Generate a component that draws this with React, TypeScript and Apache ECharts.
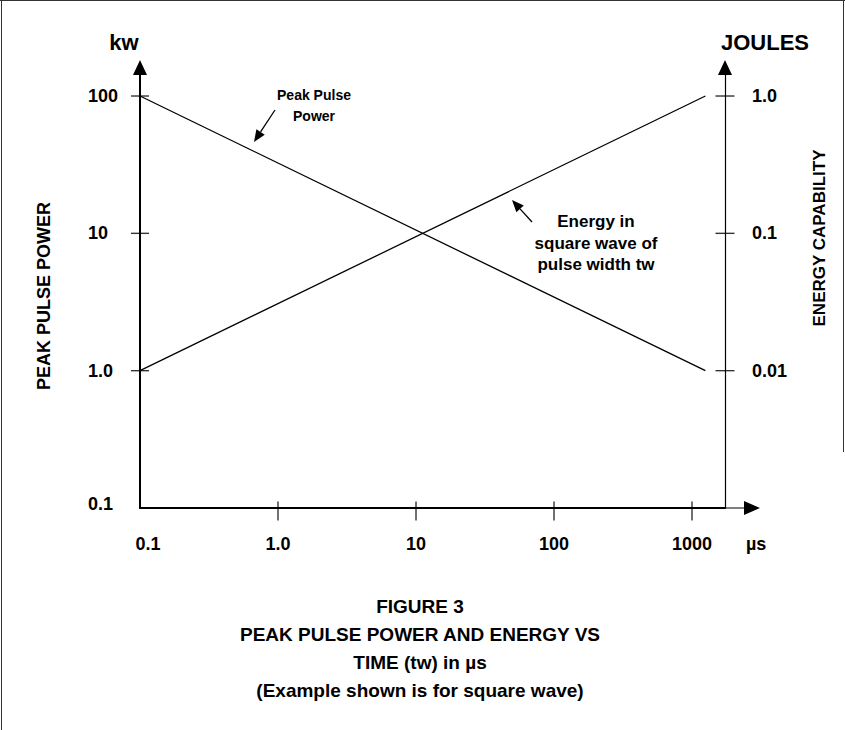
import React, { useEffect, useRef } from "react";
import * as echarts from "echarts";

// ---- data ----
const pulseWidthUs = [0.1, 1250];
const peakPulsePowerKw = [100, 1.0];
const energyJoules = [0.01, 1.0];

const xTickValues = [0.1, 1, 10, 100, 1000];
const xTickLabels = ["0.1", "1.0", "10", "100", "1000"];
const powerTickValues = [0.1, 1, 10, 100];
const powerTickLabels = ["0.1", "1.0", "10", "100"];
const energyTickValues = [0.01, 0.1, 1];
const energyTickLabels = ["0.01", "0.1", "1.0"];

const captionLines = [
  "FIGURE 3",
  "PEAK PULSE POWER AND ENERGY VS",
  "TIME (tw) in µs",
  "(Example shown is for square wave)",
];

// ---- axis extents ----
const X_MIN = 0.1;
const X_MAX = 1734;
const Y_MIN = 0.1;
const Y_MAX = 161.3;
const E_MIN = 0.001;
const E_MAX = Y_MAX / 100;

const FONT = "'Liberation Sans', Arial, Helvetica, sans-serif";

function labelFor(values: number[], labels: string[], firstStyle?: string) {
  return (v: number) => {
    for (let i = 0; i < values.length; i++) {
      if (Math.abs(Math.log10(v) - Math.log10(values[i])) < 1e-6) {
        return i === 0 && firstStyle ? `{${firstStyle}|${labels[i]}}` : labels[i];
      }
    }
    return "";
  };
}

function arrow(tail: [number, number], tip: [number, number], len = 12, half = 5) {
  const dx = tip[0] - tail[0];
  const dy = tip[1] - tail[1];
  const L = Math.hypot(dx, dy);
  const ux = dx / L, uy = dy / L;
  const bx = tip[0] - ux * len, by = tip[1] - uy * len;
  const px = -uy, py = ux;
  return [
    { type: "line", shape: { x1: tail[0], y1: tail[1], x2: bx, y2: by }, style: { stroke: "#000", lineWidth: 1.3 } },
    {
      type: "polygon",
      shape: { points: [tip, [bx + px * half, by + py * half], [bx - px * half, by - py * half]] },
      style: { fill: "#000" },
    },
  ];
}

function txt(x: number, y: number, text: string, size: number, align = "center", rotation = 0) {
  return {
    type: "text",
    x,
    y,
    rotation,
    style: {
      text,
      font: `bold ${size}px ${FONT}`,
      fill: "#000",
      align,
      verticalAlign: "middle",
      textAlign: align,
      textVerticalAlign: "middle",
    },
  };
}

export default function App() {
  const ref = useRef<HTMLDivElement>(null);

  useEffect(() => {
    if (!ref.current) return;
    const chart = echarts.init(ref.current, null, { renderer: "svg" });

    const labelStyle = { fontSize: 18, fontWeight: "bold", color: "#000", fontFamily: FONT };
    const richBase = { fontSize: 18, fontWeight: "bold", color: "#000", fontFamily: FONT };

    const option: any = {
      animation: false,
      backgroundColor: "#fff",
      grid: { left: 140, top: 67.5, width: 585, height: 440.5, containLabel: false },
      xAxis: {
        type: "log",
        logBase: 10,
        min: X_MIN,
        max: X_MAX,
        axisLine: { show: true, lineStyle: { color: "#000", width: 2 } },
        axisTick: { show: false },
        splitLine: { show: false },
        axisLabel: {
          ...labelStyle,
          margin: 27,
          formatter: labelFor(xTickValues, xTickLabels, "first"),
          rich: { first: { ...richBase, padding: [0, 0, 0, 16] } },
        },
      },
      yAxis: [
        {
          type: "log",
          logBase: 10,
          min: Y_MIN,
          max: Y_MAX,
          position: "left",
          axisLine: {
            show: true,
            symbol: ["none", "triangle"],
            symbolSize: [14, 15],
            lineStyle: { color: "#000", width: 2 },
          },
          axisTick: { show: false },
          splitLine: { show: false },
          axisLabel: {
            ...labelStyle,
            margin: 52,
            align: "left",
            formatter: labelFor(powerTickValues, powerTickLabels, "first"),
            rich: { first: { ...richBase, padding: [0, 0, 9, 0] } },
          },
        },
        {
          type: "log",
          logBase: 10,
          min: E_MIN,
          max: E_MAX,
          position: "right",
          axisLine: {
            show: true,
            symbol: ["none", "triangle"],
            symbolSize: [14, 15],
            lineStyle: { color: "#000", width: 1.2 },
          },
          axisTick: { show: false },
          splitLine: { show: false },
          axisLabel: { ...labelStyle, margin: 27, formatter: labelFor(energyTickValues, energyTickLabels) },
        },
      ],
      series: [
        {
          name: "Peak Pulse Power",
          type: "line",
          xAxisIndex: 0,
          yAxisIndex: 0,
          data: pulseWidthUs.map((t, i) => [t, peakPulsePowerKw[i]]),
          symbol: "none",
          lineStyle: { color: "#000", width: 1.3 },
          clip: false,
        },
        {
          name: "Energy in square wave of pulse width tw",
          type: "line",
          xAxisIndex: 0,
          yAxisIndex: 1,
          data: pulseWidthUs.map((t, i) => [t, energyJoules[i]]),
          symbol: "none",
          lineStyle: { color: "#000", width: 1.3 },
          clip: false,
        },
        {
          name: "powerTicks",
          type: "scatter",
          yAxisIndex: 0,
          data: powerTickValues.filter((v) => v > Y_MIN).map((v) => [X_MIN, v]),
          symbol: "rect",
          symbolSize: [18, 1.4],
          itemStyle: { color: "#000" },
          silent: true,
          clip: false,
        },
        {
          name: "timeTicks",
          type: "scatter",
          yAxisIndex: 0,
          data: xTickValues.filter((v) => v > X_MIN).map((v) => [v, Y_MIN]),
          symbol: "rect",
          symbolSize: [1.4, 19],
          symbolOffset: [0, 3],
          itemStyle: { color: "#000" },
          silent: true,
          clip: false,
        },
        {
          name: "energyTicks",
          type: "scatter",
          yAxisIndex: 1,
          data: energyTickValues.map((v) => [X_MAX, v]),
          symbol: "rect",
          symbolSize: [19, 1.4],
          itemStyle: { color: "#000" },
          silent: true,
          clip: false,
        },
      ],
      graphic: [
        // frame
        { type: "line", shape: { x1: 0, y1: 0.5, x2: 845, y2: 0.5 }, style: { stroke: "#333", lineWidth: 1 } },
        { type: "line", shape: { x1: 1.5, y1: 0, x2: 1.5, y2: 730 }, style: { stroke: "#333", lineWidth: 1 } },
        { type: "line", shape: { x1: 843.5, y1: 0, x2: 843.5, y2: 452 }, style: { stroke: "#333", lineWidth: 1 } },
        // x-axis arrow extension
        { type: "line", shape: { x1: 725, y1: 508, x2: 748, y2: 508 }, style: { stroke: "#000", lineWidth: 1 } },
        { type: "polygon", shape: { points: [[760, 508], [744, 501], [744, 515]] }, style: { fill: "#000" } },
        // unit titles
        txt(124, 42, "kw", 22),
        txt(721, 42, "JOULES", 22, "left"),
        txt(746, 544, "µs", 18, "left"),
        txt(44, 296, "PEAK PULSE POWER", 18, "center", Math.PI / 2),
        txt(819, 238, "ENERGY CAPABILITY", 17, "center", Math.PI / 2),
        // annotations
        txt(314, 95, "Peak Pulse", 14),
        txt(314, 116, "Power", 14),
        ...arrow([275, 110], [254, 142]),
        txt(596, 221, "Energy in", 17),
        txt(596, 243, "square wave of", 17),
        txt(596, 264, "pulse width tw", 17),
        ...arrow([532, 222], [512, 200]),
        // caption
        ...captionLines.map((line, i) => txt(420, 606 + i * 28, line, 19)),
      ],
    };

    chart.setOption(option);
    return () => chart.dispose();
  }, []);

  return (
    <div
      ref={ref}
      style={{ position: "absolute", left: 0, top: 0, width: 845, height: 730, background: "#fff" }}
    />
  );
}
